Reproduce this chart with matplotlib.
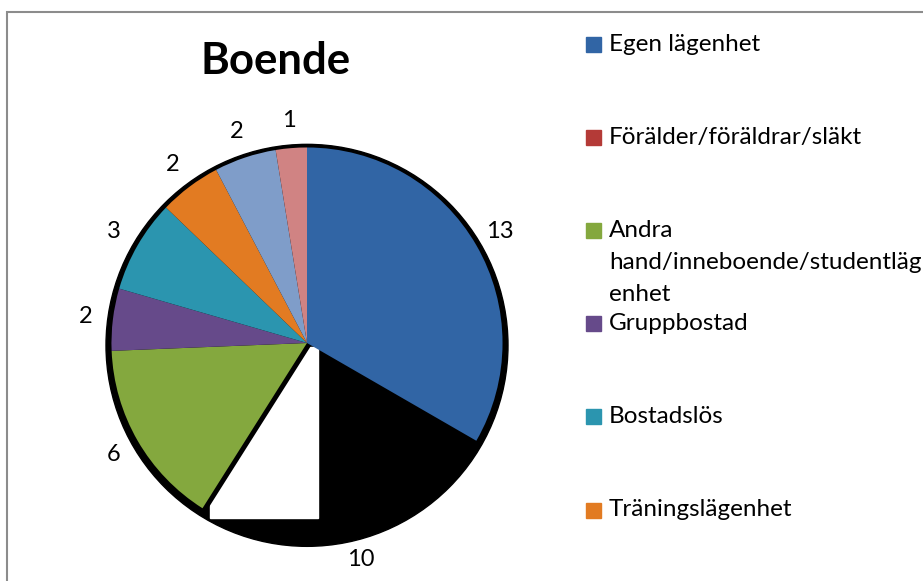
import matplotlib
matplotlib.use("Agg")
import matplotlib.pyplot as plt
from matplotlib.patches import Rectangle, Wedge, Circle

plt.rcParams["font.family"] = ["Lato", "DejaVu Sans"]

# data (slices clockwise from 12 o'clock)
values = [13, 10, 6, 2, 3, 2, 2, 1]
slice_colors = ["#3165A5", "#000000", "#84A83E", "#664A8A",
                "#2B95AF", "#E27B22", "#7F9DC9", "#D08383"]
legend_labels = ["Egen lägenhet", "Förälder/föräldrar/släkt",
                 "Andra\nhand/inneboende/studentläg\nenhet", "Gruppbostad",
                 "Bostadslös", "Träningslägenhet"]
legend_colors = ["#3165A5", "#B43A37", "#84A83E", "#664A8A", "#2B95AF", "#E27B22"]
title = "Boende"

W, H = 923, 581
fig = plt.figure(figsize=(W / 100, H / 100), dpi=100)

# pie axes: centre at (307, 343) px from top, radius 188 px
cx, cy, rpx, lim = 307, H - 343, 188, 1.3
half = rpx * lim
ax = fig.add_axes([(cx - half) / W, (cy - half) / H, 2 * half / W, 2 * half / H])
ax.set_xlim(-lim, lim)
ax.set_ylim(-lim, lim)
ax.axis("off")

total = sum(values)
wedges, _, autotexts = ax.pie(
    values, colors=slice_colors, startangle=90, counterclock=False, radius=1,
    autopct=lambda p: f"{round(p * total / 100)}", pctdistance=1.14,
    textprops=dict(fontsize=17, color="black"))
for w in wedges:
    w.set_zorder(1.5)
wedges[1].set_zorder(1.0)

# dark outline / shadow around the pie
ax.add_patch(Circle((0, -0.012), 1.028, color="black", zorder=0.5))
# white artefact block over the dark slice
ax.add_patch(Rectangle((-0.498, -0.895), 0.553, 0.875, color="white", zorder=1.2))
g = wedges[2]
ax.add_patch(Wedge(g.center, g.r, g.theta1, g.theta2, facecolor="black",
                   edgecolor="black", lw=7, joinstyle="round", zorder=1.3))

fig.text(276 / W, 1 - 74 / H, title, fontsize=31.5, fontweight="bold",
         ha="center", va="baseline")

# legend (Excel style, one slot every ~93 px)
for i, (lab, col) in enumerate(zip(legend_labels, legend_colors)):
    yc = 44.5 + 93.1 * i
    fig.patches.append(Rectangle((586 / W, 1 - (yc + 7.5) / H), 15 / W, 15 / H,
                                 transform=fig.transFigure, color=col))
    for k, line in enumerate(lab.split("\n")):
        fig.text(609 / W, 1 - (yc + 6.5 + 32 * k) / H, line, fontsize=17.5,
                 ha="left", va="baseline")

# chart area border
fig.patches.append(Rectangle((7 / W, -0.05), 1.1, 1.05 - 12 / H,
                             transform=fig.transFigure, fill=False,
                             edgecolor="#8C8C8C", lw=1.5))

fig.savefig("out.png", dpi=100)
